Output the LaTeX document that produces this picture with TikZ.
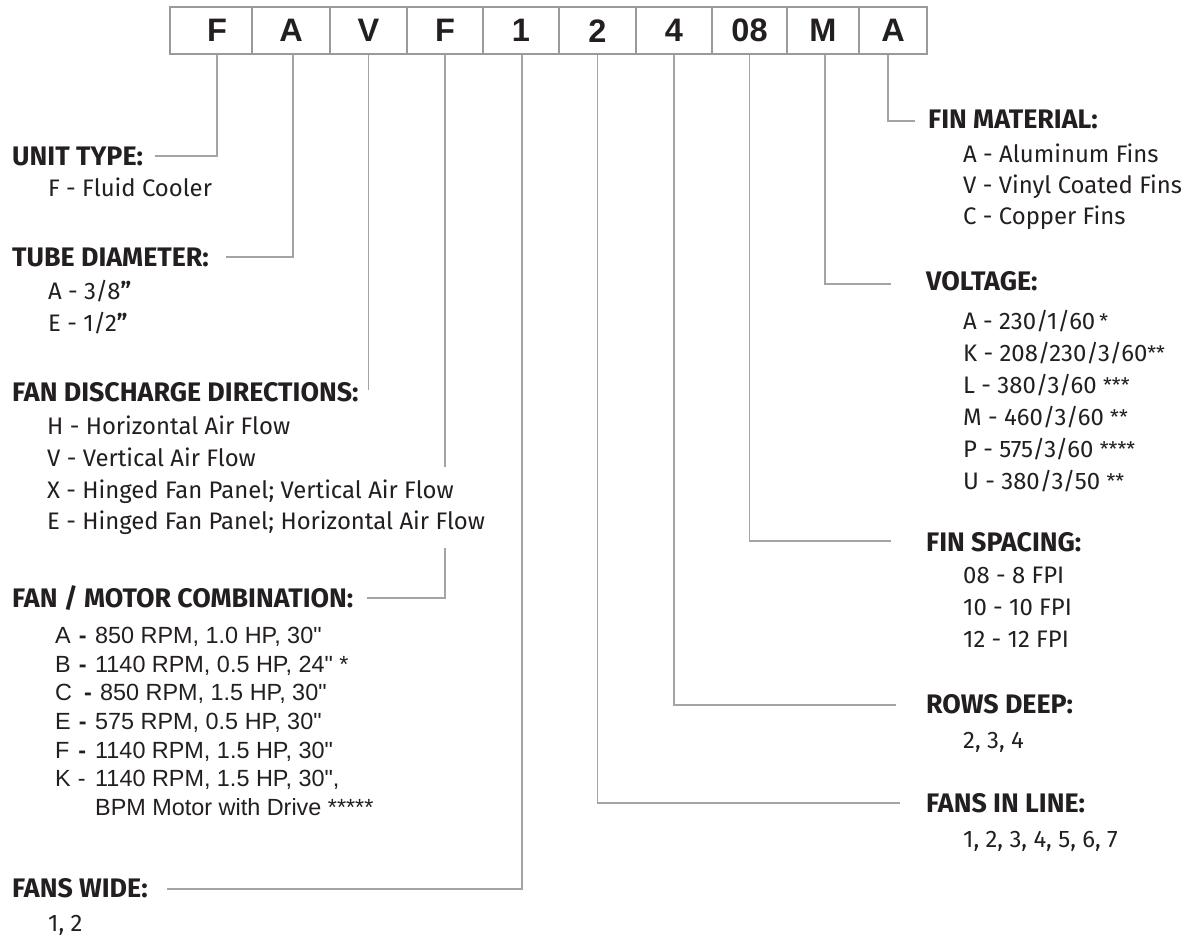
\documentclass[tikz,border=0pt]{standalone}
\usepackage{fontspec}
\setmainfont{Fira Sans}
\newfontfamily\arialf{Liberation Sans}
\definecolor{boxgray}{HTML}{9A9A9A}
\definecolor{linegray}{HTML}{A4A4A4}
\definecolor{ink}{HTML}{231F20}
\newcommand{\starmark}[1]{\raisebox{0.5pt}{\fontsize{20}{20}\selectfont #1}}
\begin{document}
\begin{tikzpicture}[x=1pt,y=-1pt,
  cell/.style={draw=boxgray, line width=2.2pt, minimum height=46.7pt, inner sep=0pt,
    font=\arialf\bfseries\fontsize{32.5}{34}\selectfont, text=ink, anchor=center},
  head/.style={inner sep=0pt, anchor=base west, font=\bfseries\fontsize{26.8}{28}\selectfont, text=ink},
  item/.style={inner sep=0pt, anchor=base west, font=\fontsize{23.9}{26}\selectfont, text=ink},
  aitem/.style={inner sep=0pt, anchor=base west, font=\arialf\fontsize{23.4}{25}\selectfont, text=ink},
  conn/.style={draw=linegray, line width=1.3pt}
]
\useasboundingbox[fill=white] (0,0) rectangle (1198,938);

% code boxes
\node[cell, minimum width=82pt] (c1) at (211,30.7) {\hspace*{12pt}F};
\node[cell, minimum width=78pt] (c2) at (291,30.7) {A};
\node[cell, minimum width=77pt] (c3) at (368.5,30.7) {V};
\node[cell, minimum width=76pt] (c4) at (445,30.7) {F};
\node[cell, minimum width=76pt] (c5) at (521,30.7) {1};
\node[cell, minimum width=77pt] (c6) at (597.5,30.7) {2};
\node[cell, minimum width=76pt] (c7) at (674,30.7) {4};
\node[cell, minimum width=75pt] (c8) at (749.5,30.7) {08};
\node[cell, minimum width=72pt] (c9) at (823,30.7) {M};
\node[cell, minimum width=68pt] (c10) at (893,30.7) {A};

% left side
\node[head] (ut) at (12,165) {UNIT TYPE:};
\node[item] (ut1) at (48,196) {F - Fluid Cooler};

\node[head] (td) at (12,266) {TUBE DIAMETER:};
\node[item] (td1) at (48,299) {A - 3/8{\bfseries "}};
\node[item] (td2) at (48,331) {E - 1/2{\bfseries "}};

\node[head] (fd) at (12,401) {FAN DISCHARGE DIRECTIONS:};
\node[item] (fd1) at (47,434) {H - Horizontal Air Flow};
\node[item] (fd2) at (47,466) {V - Vertical Air Flow};
\node[item] (fd3) at (47,498) {X - Hinged Fan Panel; Vertical Air Flow};
\node[item] (fd4) at (47,529) {E - Hinged Fan Panel; Horizontal Air Flow};

\node[head] (fm) at (12,607) {FAN / MOTOR COMBINATION:};
\node[aitem] (fm1) at (55,643) {\makebox[40pt][l]{A\hspace{8pt}\textbf{-}}850 RPM, 1.0 HP, 30"};
\node[aitem] (fm2) at (55,672) {\makebox[40pt][l]{B\hspace{8pt}\textbf{-}}1140 RPM, 0.5 HP, 24" *};
\node[aitem] (fm3) at (55,700) {\makebox[45pt][l]{C\hspace{12pt}\textbf{-}}850 RPM, 1.5 HP, 30"};
\node[aitem] (fm4) at (55,729) {\makebox[40pt][l]{E\hspace{8pt}\textbf{-}}575 RPM, 0.5 HP, 30"};
\node[aitem] (fm5) at (55,758) {\makebox[40pt][l]{F\hspace{9pt}\textbf{-}}1140 RPM, 1.5 HP, 30"};
\node[aitem] (fm6) at (55,786) {\makebox[40pt][l]{K\hspace{7pt}-}1140 RPM, 1.5 HP, 30",};
\node[aitem] (fm7) at (95,815) {BPM Motor with Drive *****};

\node[head] (fw) at (12,897) {FANS WIDE:};
\node[item] (fw1) at (48,931) {1, 2};

% right side
\node[head] (fmat) at (928,128) {FIN MATERIAL:};
\node[item] (fmat1) at (963,162) {A - Aluminum Fins};
\node[item] (fmat2) at (963,193) {V - Vinyl Coated Fins};
\node[item] (fmat3) at (963,224) {C - Copper Fins};

\node[head] (vo) at (926,290) {VOLTAGE:};
\node[item] (vo1) at (963,329) {A - 230/1/60\,\starmark{*}};
\node[item] (vo2) at (963,361) {K - 208/230/3/60\starmark{**}};
\node[item] (vo3) at (963,393) {L - 380/3/60 \starmark{***}};
\node[item] (vo4) at (963,425) {M - 460/3/60 \starmark{**}};
\node[item] (vo5) at (963,457) {P - 575/3/60 \starmark{****}};
\node[item] (vo6) at (963,489) {U - 380/3/50 \starmark{**}};

\node[head] (fs) at (926,551) {FIN SPACING:};
\node[item] (fs1) at (963,583) {08 - 8 FPI};
\node[item] (fs2) at (963,615) {10 - 10 FPI};
\node[item] (fs3) at (963,647) {12 - 12 FPI};

\node[head] (rd) at (926,713) {ROWS DEEP:};
\node[item] (rd1) at (963,748) {2, 3, 4};

\node[head] (fil) at (926,812) {FANS IN LINE:};
\node[item] (fil1) at (963,847) {1, 2, 3, 4, 5, 6, 7};

% connectors
\coordinate (g1) at (445,467);
\coordinate (g2) at (445,548);
\coordinate (fdend) at ([yshift=11pt]fd.base east);
\draw[conn] ([xshift=6pt]c1.south) |- ([xshift=12pt,yshift=9pt]ut.base east);
\draw[conn] ([xshift=2pt]c2.south) |- ([xshift=17pt,yshift=9pt]td.base east);
\draw[conn] (c3.south) -- (c3.south |- fdend);
\draw[conn] (c4.south) -- (c4.south |- g1);
\draw[conn] (c4.south |- g2) |- ([xshift=13pt,yshift=9pt]fm.base east);
\draw[conn] ([xshift=1pt]c5.south) |- ([xshift=19pt,yshift=8pt]fw.base east);

\draw[conn] ([xshift=-5pt]c10.south) |- ([xshift=-13pt,yshift=7pt]fmat.base west);
\draw[conn] ([xshift=2pt]c9.south) |- ([xshift=-35pt,yshift=6pt]vo.base west);
\draw[conn] (c8.south) |- ([xshift=-35pt,yshift=10pt]fs.base west);
\draw[conn] (c7.south) |- ([xshift=-30pt,yshift=8pt]rd.base west);
\draw[conn] (c6.south) |- ([xshift=-26pt,yshift=9pt]fil.base west);
\end{tikzpicture}
\end{document}
